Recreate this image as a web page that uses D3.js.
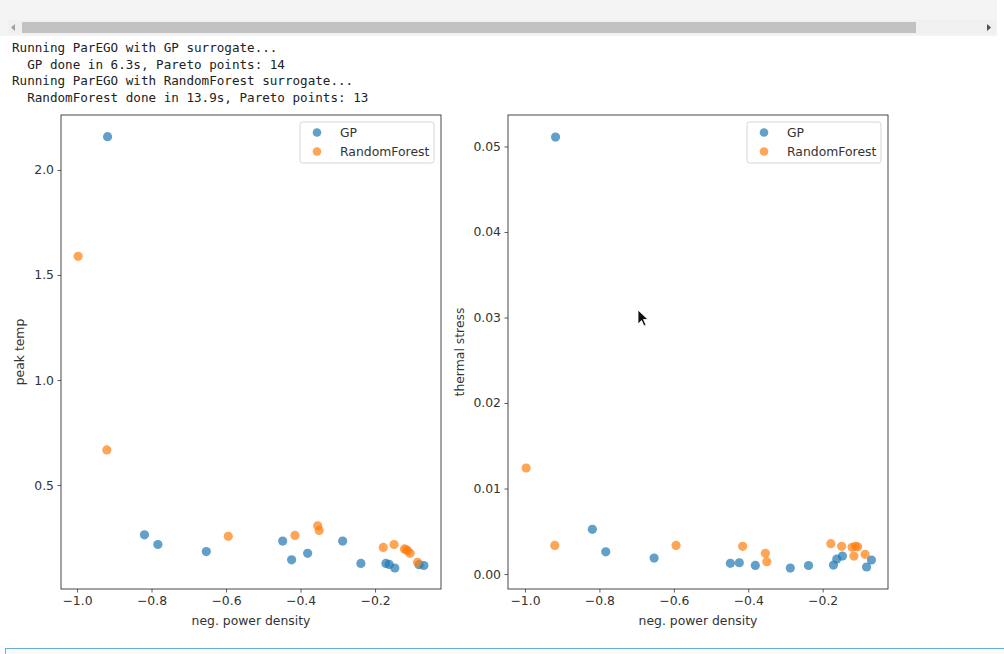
<!DOCTYPE html>
<html>
<head>
<meta charset="utf-8">
<script src="https://cdn.jsdelivr.net/npm/d3@7"></script>
<style>
  body { margin: 0; background: #fff; }
  svg { display: block; }
</style>
</head>
<body>
<svg id="fig" width="1004" height="654"></svg>
<script>
// console output above the figure
var logLines = [
  "Running ParEGO with GP surrogate...",
  "  GP done in 6.3s, Pareto points: 14",
  "Running ParEGO with RandomForest surrogate...",
  "  RandomForest done in 13.9s, Pareto points: 13"
];

var seriesNames = ["GP", "RandomForest"];

// GP pareto front
var gpPower  = [-0.918, -0.819, -0.783, -0.653, -0.448, -0.424, -0.381, -0.287, -0.238, -0.171, -0.162, -0.147, -0.082, -0.069];
var gpTemp   = [2.159, 0.263, 0.217, 0.183, 0.233, 0.144, 0.175, 0.233, 0.127, 0.127, 0.122, 0.105, 0.121, 0.117];
var gpStress = [0.0511, 0.00523, 0.0026, 0.00187, 0.00125, 0.00132, 0.00101, 0.0007, 0.0010, 0.00105, 0.00175, 0.0021, 0.00082, 0.00164];

// RandomForest pareto front
var rfPower  = [-0.997, -0.920, -0.594, -0.415, -0.354, -0.350, -0.178, -0.149, -0.121, -0.116, -0.112, -0.106, -0.086];
var rfTemp   = [1.589, 0.667, 0.256, 0.260, 0.306, 0.284, 0.203, 0.217, 0.196, 0.192, 0.186, 0.175, 0.132];
var rfStress = [0.0124, 0.00335, 0.00335, 0.00324, 0.00242, 0.00144, 0.00355, 0.00324, 0.00312, 0.0021, 0.00324, 0.00318, 0.0023];

var xTicks = [-1.0, -0.8, -0.6, -0.4, -0.2];
var tempTicks = [0.5, 1.0, 1.5, 2.0];
var stressTicks = [0.00, 0.01, 0.02, 0.03, 0.04, 0.05];

var COLORS = ["#1f77b4", "#ff7f0e"];
var FONT = "'DejaVu Sans', sans-serif";
var MONO = "'DejaVu Sans Mono', monospace";
var FSZ = "12.4px";

var svg = d3.select("#fig");

// notebook chrome: scroll area on top
svg.append("rect").attr("x", 0).attr("y", 0).attr("width", 997).attr("height", 36).attr("fill", "#f4f4f4");
svg.append("rect").attr("x", 8).attr("y", 20).attr("width", 988).attr("height", 14).attr("fill", "#f0f0f0");
svg.append("rect").attr("x", 22).attr("y", 22).attr("width", 894).attr("height", 11).attr("fill", "#c2c2c2");
svg.append("path").attr("d", "M15,24 L11,27.5 L15,31 Z").attr("fill", "#a0a0a0");
svg.append("path").attr("d", "M987,24 L991,27.5 L987,31 Z").attr("fill", "#505050");

svg.selectAll(".log")
  .data(logLines)
  .enter()
  .append("text")
  .attr("x", 12)
  .attr("y", function(d, i) { return 52 + i * 16.5; })
  .attr("xml:space", "preserve")
  .style("font-family", MONO)
  .style("font-size", "12.6px")
  .style("fill", "#222")
  .text(function(d) { return d; });

// next cell outline at the bottom
svg.append("rect").attr("x", 5.5).attr("y", 648.5).attr("width", 1000).attr("height", 20)
  .attr("fill", "#f7fbfd").attr("stroke", "#6aaed6");

function fmtMinus(s) { return s.replace("-", "\u2212"); }

function drawPanel(opt) {
  var x = d3.scaleLinear().domain(opt.xDomain).range([opt.x0, opt.x1]);
  var y = d3.scaleLinear().domain(opt.yDomain).range([opt.y1, opt.y0]);

  var g = svg.append("g");

  var xAxis = d3.axisBottom(x).tickValues(xTicks).tickSize(3.5).tickPadding(3.5)
    .tickFormat(function(d) { return fmtMinus(d3.format(".1f")(d)); });
  var yAxis = d3.axisLeft(y).tickValues(opt.yTicks).tickSize(3.5).tickPadding(3.5)
    .tickFormat(d3.format(opt.yFormat));

  var gx = g.append("g").attr("transform", "translate(0," + opt.y1 + ")").call(xAxis);
  var gy = g.append("g").attr("transform", "translate(" + opt.x0 + ",0)").call(yAxis);
  [gx, gy].forEach(function(a) {
    a.select(".domain").remove();
    a.selectAll("line").attr("stroke", "#333").attr("stroke-width", 0.8);
    a.selectAll("text").style("font-family", FONT).style("font-size", FSZ).style("fill", "#333");
  });

  // points
  var series = [
    { name: seriesNames[0], xs: gpPower, ys: opt.gpY, col: COLORS[0] },
    { name: seriesNames[1], xs: rfPower, ys: opt.rfY, col: COLORS[1] }
  ];
  series.forEach(function(s) {
    g.append("g").selectAll("circle")
      .data(s.xs)
      .enter()
      .append("circle")
      .attr("cx", function(d) { return x(d); })
      .attr("cy", function(d, i) { return y(s.ys[i]); })
      .attr("r", 4.6)
      .attr("fill", s.col)
      .attr("fill-opacity", 0.7);
  });

  // frame
  g.append("rect")
    .attr("x", opt.x0).attr("y", opt.y0)
    .attr("width", opt.x1 - opt.x0).attr("height", opt.y1 - opt.y0)
    .attr("fill", "none").attr("stroke", "#333").attr("stroke-width", 0.9);

  // axis titles
  g.append("text")
    .attr("x", (opt.x0 + opt.x1) / 2).attr("y", opt.y1 + 36)
    .attr("text-anchor", "middle")
    .style("font-family", FONT).style("font-size", FSZ).style("fill", "#333")
    .text("neg. power density");
  g.append("text")
    .attr("transform", "translate(" + opt.ylabX + "," + (opt.y0 + opt.y1) / 2 + ") rotate(-90)")
    .attr("text-anchor", "middle")
    .style("font-family", FONT).style("font-size", FSZ).style("fill", "#333")
    .text(opt.ylabel);

  // legend
  var lx = opt.x1 - 141, ly = opt.y0 + 7;
  g.append("rect")
    .attr("x", lx).attr("y", ly).attr("width", 134).attr("height", 41).attr("rx", 2.5)
    .attr("fill", "#fff").attr("fill-opacity", 0.8).attr("stroke", "#d6d6d6");
  series.forEach(function(s, i) {
    g.append("circle")
      .attr("cx", lx + 17).attr("cy", ly + 10.5 + i * 19)
      .attr("r", 4.3).attr("fill", s.col).attr("fill-opacity", 0.7);
    g.append("text")
      .attr("x", lx + 40).attr("y", ly + 14.5 + i * 19)
      .style("font-family", FONT).style("font-size", FSZ).style("fill", "#333")
      .text(s.name);
  });
}

drawPanel({
  x0: 61, x1: 441, y0: 115, y1: 589,
  xDomain: [-1.043, -0.023], yDomain: [0.005, 2.262],
  yTicks: tempTicks, yFormat: ".1f",
  gpY: gpTemp, rfY: rfTemp,
  ylabel: "peak temp", ylabX: 24
});

drawPanel({
  x0: 508, x1: 888, y0: 115, y1: 589,
  xDomain: [-1.0457, -0.0244], yDomain: [-0.00175, 0.05368],
  yTicks: stressTicks, yFormat: ".2f",
  gpY: gpStress, rfY: rfStress,
  ylabel: "thermal stress", ylabX: 464
});

// mouse pointer left in the screenshot
svg.append("path")
  .attr("d", "M638,310 L638,324 L641.5,320.5 L644,326 L646,325 L643.5,319.5 L648,319.5 Z")
  .attr("fill", "#111").attr("stroke", "#fff").attr("stroke-width", 0.8);
</script>
</body>
</html>
